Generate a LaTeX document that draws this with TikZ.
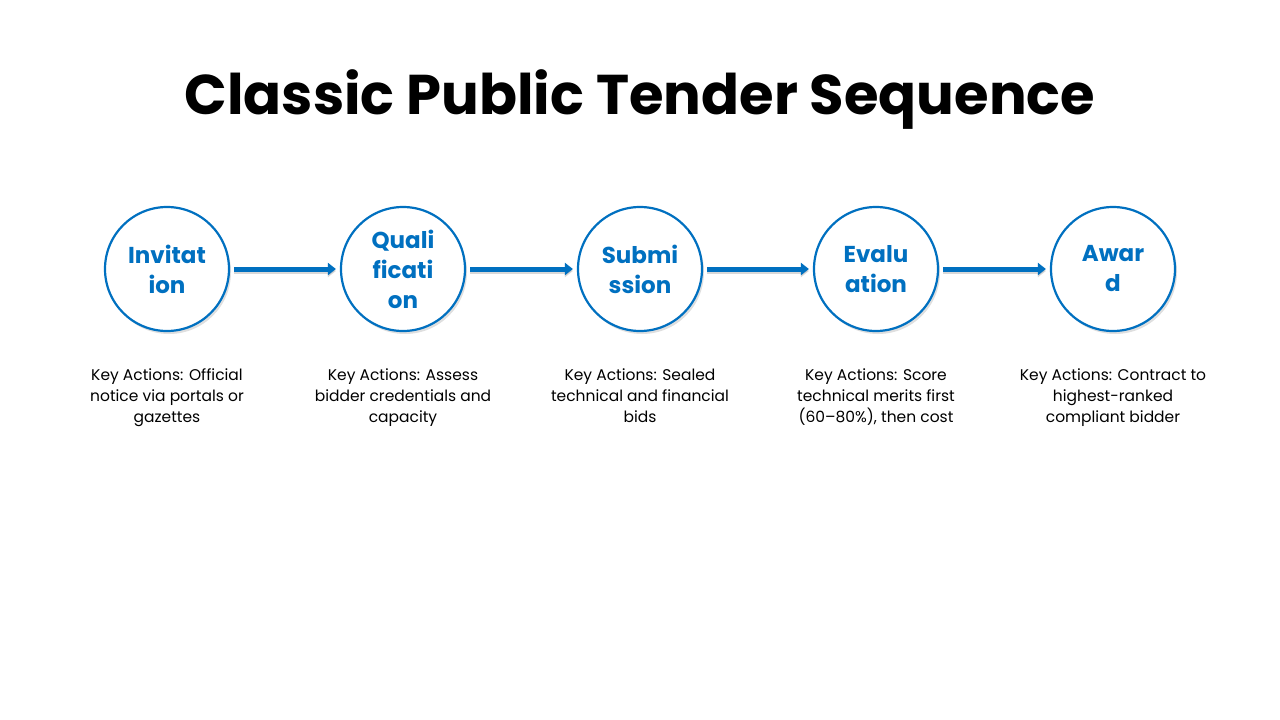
\documentclass[tikz,border=0pt]{standalone}
\usepackage{fontspec}
\setmainfont{Poppins}
\usetikzlibrary{shadows,arrows.meta}
\definecolor{cblue}{HTML}{0070C0}
\begin{document}
\begin{tikzpicture}[x=1pt,y=-1pt,
  stage/.style={circle,draw=cblue,line width=2.2pt,fill=white,minimum size=124pt,inner sep=0pt,
    text=cblue,font=\fontsize{23}{30}\selectfont\bfseries,align=center,
    drop shadow={shadow xshift=2pt,shadow yshift=-3pt,opacity=0.25}},
  desc/.style={font=\fontsize{15.5}{21}\selectfont,align=center,anchor=north},
  flow/.style={draw=cblue,line width=5pt,-{Triangle[length=8pt,width=12pt]},
    preaction={draw=black!30,line width=5pt,transform canvas={yshift=-2pt},opacity=0.5}}]
\useasboundingbox (0,0) rectangle (1280,720);
\node (title) at (640,100) {\fontsize{56}{64}\selectfont\bfseries Classic Public Tender Sequence};
\node[stage] (a) at (167,269) {Invitat\\ion};
\node[stage] (b) at (403,269) {Quali\\ficati\\on};
\node[stage] (c) at (640,269) {Submi\\ssion};
\node[stage] (d) at (876,269) {Evalu\\ation};
\node[stage] (e) at (1113,269) {Awar\\d};
\foreach \p/\q in {a/b,b/c,c/d,d/e}
  \draw[flow] ([xshift=4pt]\p.east) -- ([xshift=-4pt]\q.west);
\node[desc] (da) at (167,365) {Key Actions: Official\\notice via portals or\\gazettes};
\node[desc] (db) at (403,365) {Key Actions: Assess\\bidder credentials and\\capacity};
\node[desc] (dc) at (640,365) {Key Actions: Sealed\\technical and financial\\bids};
\node[desc] (dd) at (876,365) {Key Actions: Score\\technical merits first\\(60–80\%), then cost};
\node[desc] (de) at (1113,365) {Key Actions: Contract to\\highest-ranked\\compliant bidder};
\end{tikzpicture}
\end{document}
